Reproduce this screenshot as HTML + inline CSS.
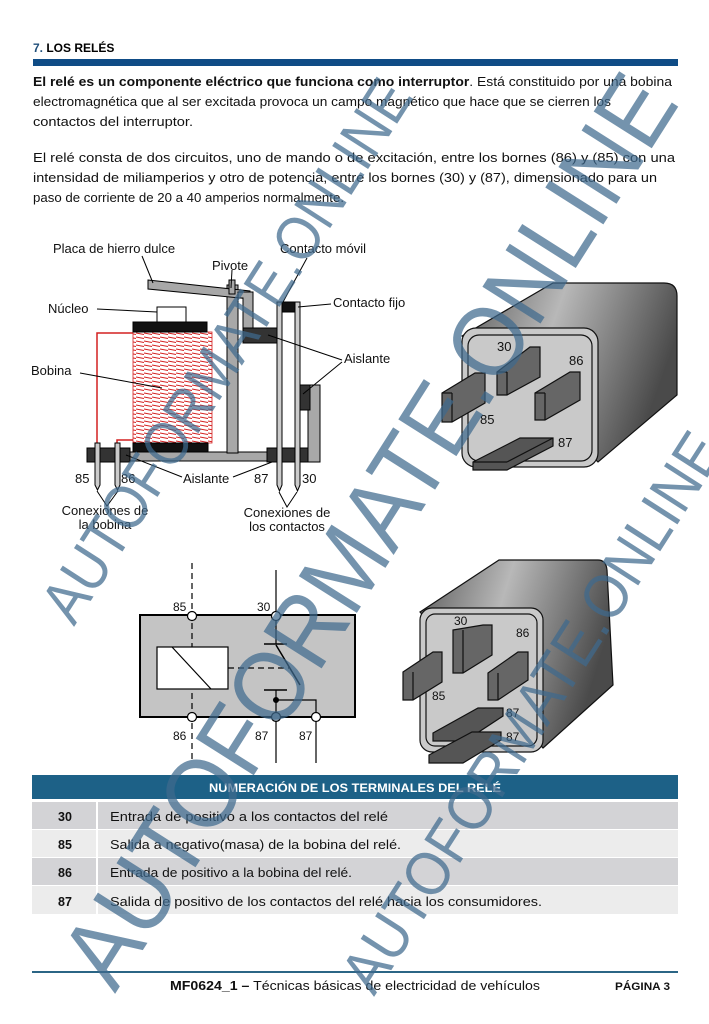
<!DOCTYPE html>
<html><head><meta charset="utf-8"><style>
html,body{margin:0;padding:0;background:#fff;}
svg{display:block;}
text{font-family:"Liberation Sans",sans-serif;}
</style></head><body>
<svg width="709" height="1024" viewBox="0 0 709 1024" xmlns="http://www.w3.org/2000/svg">
<defs>
<linearGradient id="g1" x1="0" y1="0" x2="1" y2="0.3">
<stop offset="0" stop-color="#5a5a5a"/><stop offset="0.45" stop-color="#b8b8b8"/><stop offset="1" stop-color="#4a4a4a"/>
</linearGradient>
<pattern id="coil" width="8" height="4" patternUnits="userSpaceOnUse">
<line x1="0" y1="1" x2="8" y2="2.5" stroke="#d42020" stroke-width="0.9"/>
</pattern>
</defs>

<!-- Header -->
<text x="33" y="52" font-size="12" font-weight="bold" fill="#000"><tspan fill="#1f4e79">7.</tspan> LOS RELÉS</text>
<rect x="33" y="59" width="645" height="7" fill="#0f4c86"/>

<g font-size="13" fill="#111">
<text x="33" y="86" textLength="639" lengthAdjust="spacingAndGlyphs"><tspan font-weight="bold">El relé es un componente eléctrico que funciona como interruptor</tspan>. Está constituido por una bobina</text>
<text x="33" y="106" textLength="578" lengthAdjust="spacingAndGlyphs">electromagnética que al ser excitada provoca un campo magnético que hace que se cierren los</text>
<text x="33" y="126" textLength="160" lengthAdjust="spacingAndGlyphs">contactos del interruptor.</text>
<text x="33" y="162" textLength="642" lengthAdjust="spacingAndGlyphs">El relé consta de dos circuitos, uno de mando o de excitación, entre los bornes (86) y (85) con una</text>
<text x="33" y="182" textLength="624" lengthAdjust="spacingAndGlyphs">intensidad de miliamperios y otro de potencia, entre los bornes (30) y (87), dimensionado para un</text>
<text x="33" y="202" textLength="311" lengthAdjust="spacingAndGlyphs">paso de corriente de 20 a 40 amperios normalmente.</text>
</g>

<!-- Left relay diagram -->
<g stroke="#000" stroke-width="1">
<path d="M133,333 H97 V447" fill="none" stroke="#d42020" stroke-width="1.5"/>
<path d="M133,440 H117 V447" fill="none" stroke="#d42020" stroke-width="1.5"/>
<rect x="133" y="332" width="79" height="111" fill="#fff" stroke="none"/>
<rect x="133" y="332" width="79" height="111" fill="url(#coil)" stroke="#d42020" stroke-width="0.8"/>
<rect x="133" y="322" width="74" height="10" fill="#111"/>
<rect x="133" y="443" width="75" height="10" fill="#111"/>
<rect x="157" y="307" width="29" height="15" fill="#fff"/>
<rect x="120" y="452" width="155" height="9" fill="#a8a8a8"/>
<rect x="227" y="285" width="11" height="168" fill="#a8a8a8"/>
<polygon points="148,280 250,291 250,299 148,289" fill="#a8a8a8"/>
<rect x="229" y="280" width="6" height="14" fill="#a8a8a8"/>
<polygon points="238,292 253,292 253,330 243,330 243,298 238,298" fill="#a8a8a8"/>
<rect x="243" y="328" width="34" height="15" fill="#333"/>
<rect x="87" y="448" width="43" height="14" fill="#333"/>
<polygon points="95,443 100,443 100,485 97.5,490 95,485" fill="#ccc"/>
<polygon points="115,443 120,443 120,485 117.5,490 115,485" fill="#ccc"/>
<rect x="267" y="448" width="41" height="14" fill="#333"/>
<polygon points="308,385 320,385 320,462 308,462" fill="#a8a8a8"/>
<rect x="298" y="385" width="12" height="25" fill="#333"/>
<polygon points="277,302 282,302 282,485 279.5,491 277,485" fill="#ccc"/>
<polygon points="295,302 300,302 300,485 297.5,491 295,485" fill="#ccc"/>
<rect x="282" y="302" width="13" height="10" fill="#111"/>
<g fill="none" stroke-width="1">
<line x1="142" y1="256" x2="153" y2="283"/>
<line x1="232" y1="270" x2="231" y2="288"/>
<line x1="307" y1="258" x2="283" y2="302"/>
<line x1="331" y1="304" x2="298" y2="307"/>
<line x1="97" y1="309" x2="157" y2="312"/>
<line x1="80" y1="373" x2="162" y2="388"/>
<line x1="342" y1="360" x2="268" y2="335"/>
<line x1="342" y1="362" x2="303" y2="394"/>
<line x1="182" y1="477" x2="126" y2="455"/>
<line x1="233" y1="477" x2="272" y2="462"/>
<polyline points="97,491 107,506 118,491"/>
<polyline points="279,492 287,507 297,492"/>
</g>
</g>
<g font-size="13" fill="#111">
<text x="53" y="253">Placa de hierro dulce</text>
<text x="212" y="270">Pivote</text>
<text x="280" y="253">Contacto móvil</text>
<text x="333" y="307">Contacto fijo</text>
<text x="48" y="313">Núcleo</text>
<text x="31" y="375">Bobina</text>
<text x="344" y="363">Aislante</text>
<text x="183" y="483">Aislante</text>
<text x="75" y="483">85</text>
<text x="121" y="483">86</text>
<text x="254" y="483">87</text>
<text x="302" y="483">30</text>
<text x="105" y="515" text-anchor="middle">Conexiones de</text>
<text x="105" y="529" text-anchor="middle">la bobina</text>
<text x="287" y="517" text-anchor="middle">Conexiones de</text>
<text x="287" y="531" text-anchor="middle">los contactos</text>
</g>

<!-- Right relay 1 -->
<g stroke="#111" stroke-width="1.2">
<path d="M462,336 L553,283 L664,283 Q677,283 677,296 L677,395 L598,462 Z" fill="url(#g1)"/>
<rect x="462" y="328" width="136" height="139" rx="14" fill="#c9c9c9"/>
<rect x="468" y="335" width="124" height="126" rx="11" fill="#c9c9c9"/>
<polygon points="497,372 530,347 540,347 540,377 507,395 497,395" fill="#666"/>
<line x1="507" y1="372" x2="507" y2="395"/><line x1="497" y1="372" x2="507" y2="372"/>
<polygon points="442,393 475,373 485,373 485,403 452,422 442,422" fill="#666"/>
<line x1="452" y1="393" x2="452" y2="422"/><line x1="442" y1="393" x2="452" y2="393"/>
<polygon points="535,393 570,372 580,372 580,400 545,420 535,420" fill="#666"/>
<line x1="545" y1="393" x2="545" y2="420"/><line x1="535" y1="393" x2="545" y2="393"/>
<polygon points="473,462 520,438 553,438 553,446 507,470 473,470" fill="#555"/>
<line x1="473" y1="462" x2="507" y2="462"/><line x1="507" y1="462" x2="553" y2="438"/>
</g>
<g font-size="13" fill="#111">
<text x="497" y="351">30</text><text x="569" y="365">86</text>
<text x="480" y="424">85</text><text x="558" y="447">87</text>
</g>

<!-- Schematic -->
<g stroke="#000">
<rect x="140" y="615" width="215" height="102" fill="#c4c4c4" stroke-width="2"/>
<line x1="192" y1="563" x2="192" y2="763" stroke-width="1.2" stroke-dasharray="6,4"/>
<rect x="157" y="647" width="71" height="42" fill="#fff" stroke-width="1.2"/>
<line x1="172" y1="647" x2="211" y2="689" stroke-width="1.2"/>
<line x1="276" y1="570" x2="276" y2="644" stroke-width="1.2"/>
<line x1="264" y1="644" x2="287" y2="644" stroke-width="1.5"/>
<line x1="276" y1="645" x2="300" y2="685" stroke-width="1.5"/>
<line x1="228" y1="668" x2="289" y2="668" stroke-width="1.2" stroke-dasharray="6,4"/>
<line x1="264" y1="690" x2="287" y2="690" stroke-width="1.5"/>
<line x1="276" y1="690" x2="276" y2="763" stroke-width="1.2"/>
<polyline points="276,700 316,700 316,763" fill="none" stroke-width="1.2"/>
<circle cx="276" cy="700" r="2.5" fill="#000"/>
<g fill="#fff" stroke-width="1.2">
<circle cx="192" cy="616" r="4.5"/><circle cx="276" cy="616" r="4.5"/>
<circle cx="192" cy="717" r="4.5"/><circle cx="276" cy="717" r="4.5" fill="#9aa8b4"/><circle cx="316" cy="717" r="4.5"/>
</g>
</g>
<g font-size="12" fill="#111">
<text x="173" y="611">85</text><text x="257" y="611">30</text>
<text x="173" y="740">86</text><text x="255" y="740">87</text><text x="299" y="740">87</text>
</g>

<!-- Right relay 2 -->
<g stroke="#111" stroke-width="1.2">
<path d="M420,612 L499,560 L598,560 Q606,560 607,570 L613,685 L543,748 Z" fill="url(#g1)"/>
<rect x="420" y="608" width="123" height="144" rx="12" fill="#c9c9c9"/>
<rect x="426" y="614" width="111" height="132" rx="9" fill="#c9c9c9"/>
<polygon points="453,630 483,625 492,625 492,655 463,673 453,673" fill="#666"/>
<line x1="463" y1="630" x2="463" y2="673"/>
<polygon points="488,673 518,652 528,652 528,680 498,700 488,700" fill="#666"/>
<line x1="498" y1="673" x2="498" y2="700"/>
<polygon points="403,672 433,652 442,652 442,682 413,700 403,700" fill="#666"/>
<line x1="413" y1="672" x2="413" y2="700"/>
<polygon points="433,733 478,708 503,708 503,716 465,741 433,741" fill="#555"/>
<polygon points="429,755 472,732 501,732 501,740 463,763 429,763" fill="#555"/>
</g>
<g font-size="12" fill="#111">
<text x="454" y="625">30</text><text x="516" y="637">86</text><text x="432" y="700">85</text>
<text x="506" y="717">87</text><text x="506" y="741">87</text>
</g>

<!-- Table -->
<rect x="32" y="775" width="646" height="24" fill="#1d6187"/>
<text x="355" y="792" font-size="12" font-weight="bold" fill="#fff" text-anchor="middle" textLength="292" lengthAdjust="spacingAndGlyphs">NUMERACIÓN DE LOS TERMINALES DEL RELÉ</text>
<rect x="32" y="802" width="646" height="27" fill="#d3d3d6"/>
<rect x="32" y="830" width="646" height="27" fill="#ececec"/>
<rect x="32" y="858" width="646" height="27" fill="#d3d3d6"/>
<rect x="32" y="886" width="646" height="28" fill="#ececec"/>
<g stroke="#fff" stroke-width="2"><line x1="97" y1="801" x2="97" y2="914"/></g>
<g font-size="12.5" fill="#111">
<text x="58" y="821" font-weight="bold">30</text>
<text x="58" y="849" font-weight="bold">85</text>
<text x="58" y="877" font-weight="bold">86</text>
<text x="58" y="906" font-weight="bold">87</text>
<text x="110" y="821" textLength="278" lengthAdjust="spacingAndGlyphs">Entrada de positivo a los contactos del relé</text>
<text x="110" y="849" textLength="291" lengthAdjust="spacingAndGlyphs">Salida a negativo(masa) de la bobina del relé.</text>
<text x="110" y="877" textLength="242" lengthAdjust="spacingAndGlyphs">Entrada de positivo a la bobina del relé.</text>
<text x="110" y="906" textLength="432" lengthAdjust="spacingAndGlyphs">Salida de positivo de los contactos del relé hacia los consumidores.</text>
</g>

<!-- Footer -->
<rect x="32" y="971" width="646" height="2" fill="#2b6585"/>
<text x="170" y="990" font-size="13" fill="#111" textLength="370" lengthAdjust="spacingAndGlyphs"><tspan font-weight="bold">MF0624_1 –</tspan> Técnicas básicas de electricidad de vehículos</text>
<text x="615" y="990" font-size="11" font-weight="bold" fill="#111" textLength="55" lengthAdjust="spacingAndGlyphs">PÁGINA 3</text>

<!-- Watermarks -->
<g fill="#3f6a8e" fill-opacity="0.72" font-size="62">
<text transform="translate(74,627) rotate(-57.3)" textLength="630" lengthAdjust="spacingAndGlyphs">AUTOFORMATE.ONLINE</text>
<text transform="translate(115,994) rotate(-57.6)" font-size="100" textLength="1055" lengthAdjust="spacingAndGlyphs">AUTOFORMATE.ONLINE</text>
<text transform="translate(374,997) rotate(-57.3)" textLength="650" lengthAdjust="spacingAndGlyphs">AUTOFORMATE.ONLINE</text>
</g>
</svg>
</body></html>
